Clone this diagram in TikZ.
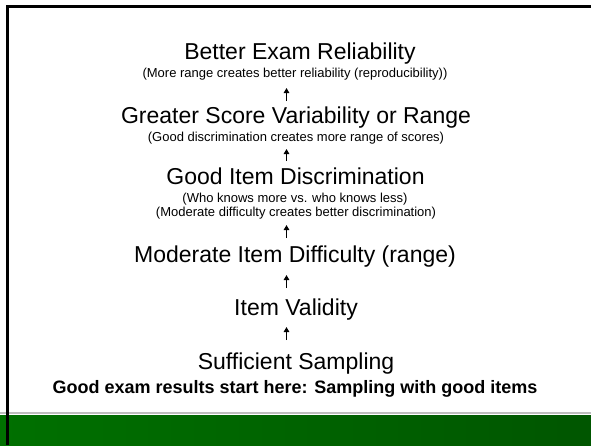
\documentclass[tikz,border=0pt]{standalone}
\usepackage{fontspec}
\setmainfont{Liberation Sans}
\usetikzlibrary{arrows.meta}
\definecolor{gleft}{RGB}{0,112,0}
\definecolor{gright}{RGB}{0,86,0}
\definecolor{sepgray}{RGB}{190,190,190}
\tikzset{
  big/.style={anchor=base,inner sep=0pt,font=\fontsize{23}{26}\selectfont},
  small/.style={anchor=base,inner sep=0pt,font=\fontsize{13}{15}\selectfont},
  boldline/.style={anchor=base,inner sep=0pt,font=\fontsize{18}{21}\selectfont\bfseries},
  uparrow/.style={line width=1.6pt,-{Triangle[length=5pt,width=5.5pt]}},
}
\begin{document}
\begin{tikzpicture}[x=1pt,y=-1pt]
\useasboundingbox (0,0) rectangle (591,445);
\fill[white] (0,0) rectangle (591,445);
% bottom band
\shade[left color=gleft,right color=gright] (0,415) rectangle (591,445);
\fill[sepgray] (0,412.3) rectangle (591,414);
% frame
\fill[black] (6,5) rectangle (591,8);
\fill[black] (6,5) rectangle (9,445);
% texts
\node[big] (t1) at (300,59) {Better Exam Reliability};
\node[small] (s1) at (295,77) {(More range creates better reliability (reproducibility))};
\node[big] (t2) at (296,123.5) {Greater Score Variability or Range};
\node[small] (s2) at (296,141) {(Good discrimination creates more range of scores)};
\node[big] (t3) at (295.5,184.5) {Good Item Discrimination};
\node[small] (s3a) at (295,202) {(Who knows more vs. who knows less)};
\node[small] (s3b) at (296,216) {(Moderate difficulty creates better discrimination)};
\node[big] (t4) at (295,262.5) {Moderate Item Difficulty (range)};
\node[big] (t5) at (296,315) {Item Validity};
\node[big] (t6) at (296,369.5) {Sufficient Sampling};
\node[boldline] (b) at (295,393) {Good exam results start here: Sampling with good items};
% arrows
\coordinate (a1s) at (286.5,101); \coordinate (a1e) at (286.5,88);
\coordinate (a2s) at (286.5,161); \coordinate (a2e) at (286.5,149);
\coordinate (a3s) at (286.5,238); \coordinate (a3e) at (286.5,225);
\coordinate (a4s) at (286.5,288); \coordinate (a4e) at (286.5,275);
\coordinate (a5s) at (286.5,340); \coordinate (a5e) at (286.5,327);
\draw[uparrow] (a1s) -- (a1e);
\draw[uparrow] (a2s) -- (a2e);
\draw[uparrow] (a3s) -- (a3e);
\draw[uparrow] (a4s) -- (a4e);
\draw[uparrow] (a5s) -- (a5e);
\end{tikzpicture}
\end{document}
